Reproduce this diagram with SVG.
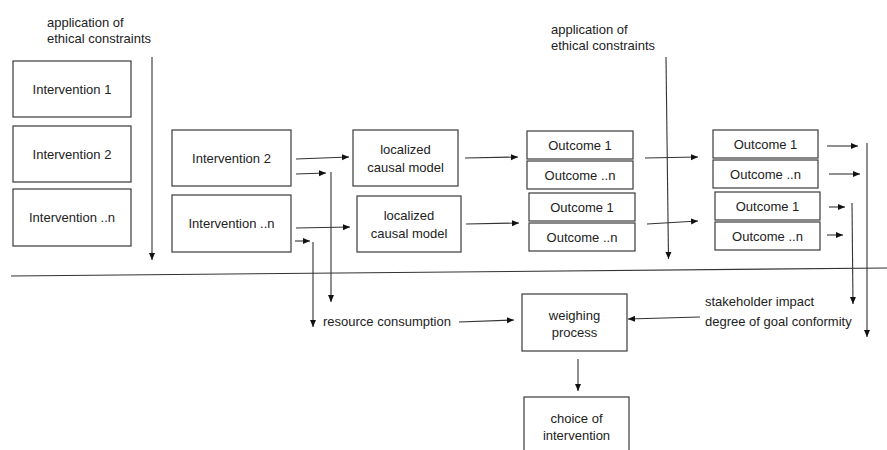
<svg xmlns="http://www.w3.org/2000/svg" width="887" height="450" viewBox="0 0 887 450">
  <style>
    .box { fill: #ffffff; stroke: #3a3a3a; stroke-width: 1.2; }
    .lbl { font-family: "Liberation Sans", Arial, sans-serif; font-size: 13px; fill: #222222; }
    .mid { text-anchor: middle; }
    .wire { fill: none; stroke: #333333; stroke-width: 1.1; }
    .arr { marker-end: url(#head); }
  </style>
  <defs>
    <marker id="head" markerUnits="userSpaceOnUse" markerWidth="8" markerHeight="8" refX="7" refY="4" orient="auto">
      <path d="M0,1 L7,4 L0,7 Z" fill="#111111"/>
    </marker>
  </defs>

  <rect width="887" height="450" fill="#ffffff"/>

  <!-- free labels -->
  <g id="label-constraints-left">
    <text class="lbl" x="47" y="27">application of</text>
    <text class="lbl" x="47" y="43">ethical constraints</text>
  </g>
  <g id="label-constraints-right">
    <text class="lbl" x="551" y="34">application of</text>
    <text class="lbl" x="551" y="50">ethical constraints</text>
  </g>
  <g id="label-resource">
    <text class="lbl" x="323" y="326">resource consumption</text>
  </g>
  <g id="label-stakeholder">
    <text class="lbl" x="705" y="306">stakeholder impact</text>
    <text class="lbl" x="705" y="326">degree of goal conformity</text>
  </g>

  <!-- candidate interventions -->
  <g id="intervention-1">
    <rect class="box" x="13" y="61" width="118" height="56"/>
    <text class="lbl mid" x="72" y="93.5">Intervention 1</text>
  </g>
  <g id="intervention-2">
    <rect class="box" x="13" y="126" width="118" height="56"/>
    <text class="lbl mid" x="72" y="158.5">Intervention 2</text>
  </g>
  <g id="intervention-n">
    <rect class="box" x="13" y="189" width="118" height="57"/>
    <text class="lbl mid" x="72" y="222">Intervention ..n</text>
  </g>

  <!-- admissible interventions -->
  <g id="admitted-2">
    <rect class="box" x="172" y="130" width="119" height="56"/>
    <text class="lbl mid" x="231.5" y="162.5">Intervention 2</text>
  </g>
  <g id="admitted-n">
    <rect class="box" x="172" y="195" width="119" height="57"/>
    <text class="lbl mid" x="231.5" y="228">Intervention ..n</text>
  </g>

  <!-- causal models -->
  <g id="causal-model-1">
    <rect class="box" x="353" y="130" width="105" height="56"/>
    <text class="lbl mid" x="405.5" y="153.5">localized</text>
    <text class="lbl mid" x="405.5" y="171.5">causal model</text>
  </g>
  <g id="causal-model-2">
    <rect class="box" x="357" y="196" width="104" height="56"/>
    <text class="lbl mid" x="409" y="219.5">localized</text>
    <text class="lbl mid" x="409" y="237.5">causal model</text>
  </g>

  <!-- predicted outcomes -->
  <g id="outcome-a1">
    <rect class="box" x="527" y="131" width="106" height="28"/>
    <text class="lbl mid" x="580" y="149.5">Outcome 1</text>
  </g>
  <g id="outcome-an">
    <rect class="box" x="527" y="161" width="106" height="28"/>
    <text class="lbl mid" x="580" y="179.5">Outcome ..n</text>
  </g>
  <g id="outcome-b1">
    <rect class="box" x="529" y="193" width="106" height="28"/>
    <text class="lbl mid" x="582" y="211.5">Outcome 1</text>
  </g>
  <g id="outcome-bn">
    <rect class="box" x="529" y="223" width="106" height="28"/>
    <text class="lbl mid" x="582" y="241.5">Outcome ..n</text>
  </g>

  <!-- admissible outcomes -->
  <g id="kept-a1">
    <rect class="box" x="713" y="130" width="105" height="28"/>
    <text class="lbl mid" x="765.5" y="148.5">Outcome 1</text>
  </g>
  <g id="kept-an">
    <rect class="box" x="713" y="160" width="105" height="28"/>
    <text class="lbl mid" x="765.5" y="178.5">Outcome ..n</text>
  </g>
  <g id="kept-b1">
    <rect class="box" x="715" y="192" width="105" height="28"/>
    <text class="lbl mid" x="767.5" y="210.5">Outcome 1</text>
  </g>
  <g id="kept-bn">
    <rect class="box" x="715" y="222" width="105" height="28"/>
    <text class="lbl mid" x="767.5" y="240.5">Outcome ..n</text>
  </g>

  <!-- evaluation -->
  <g id="weighing">
    <rect class="box" x="522" y="294" width="105" height="57"/>
    <text class="lbl mid" x="574.5" y="319.5">weighing</text>
    <text class="lbl mid" x="574.5" y="336.5">process</text>
  </g>
  <g id="choice">
    <rect class="box" x="524" y="397" width="105" height="60"/>
    <text class="lbl mid" x="576.5" y="422.5">choice of</text>
    <text class="lbl mid" x="576.5" y="439.5">intervention</text>
  </g>

  <!-- connectors -->
  <g id="connectors">
    <line class="wire" x1="11" y1="276" x2="887" y2="268"/>
    <line class="wire arr" x1="152" y1="57" x2="152" y2="260"/>
    <line class="wire arr" x1="666" y1="57" x2="668.5" y2="259"/>

    <line class="wire arr" x1="296" y1="159" x2="349" y2="157"/>
    <line class="wire arr" x1="296" y1="174" x2="326" y2="173"/>
    <line class="wire arr" x1="331" y1="172" x2="331" y2="302"/>
    <line class="wire arr" x1="296" y1="228" x2="350" y2="227"/>
    <line class="wire arr" x1="295" y1="241" x2="310" y2="241"/>
    <line class="wire arr" x1="313" y1="242" x2="313" y2="327"/>

    <line class="wire arr" x1="465" y1="158" x2="518" y2="157"/>
    <line class="wire arr" x1="466" y1="224" x2="519" y2="223"/>
    <line class="wire arr" x1="645" y1="158" x2="698" y2="157"/>
    <line class="wire arr" x1="647" y1="224" x2="698" y2="221"/>

    <line class="wire arr" x1="827" y1="146" x2="858" y2="146"/>
    <line class="wire arr" x1="829" y1="174" x2="860" y2="174"/>
    <line class="wire arr" x1="829" y1="207" x2="845" y2="207"/>
    <line class="wire arr" x1="827" y1="235" x2="843" y2="235"/>
    <line class="wire arr" x1="852" y1="203" x2="853" y2="304"/>
    <line class="wire arr" x1="867" y1="143" x2="867" y2="337"/>

    <line class="wire arr" x1="459" y1="322" x2="514" y2="320"/>
    <line class="wire arr" x1="700" y1="317" x2="628" y2="319"/>
    <line class="wire arr" x1="578" y1="359" x2="578" y2="391"/>
  </g>
</svg>
